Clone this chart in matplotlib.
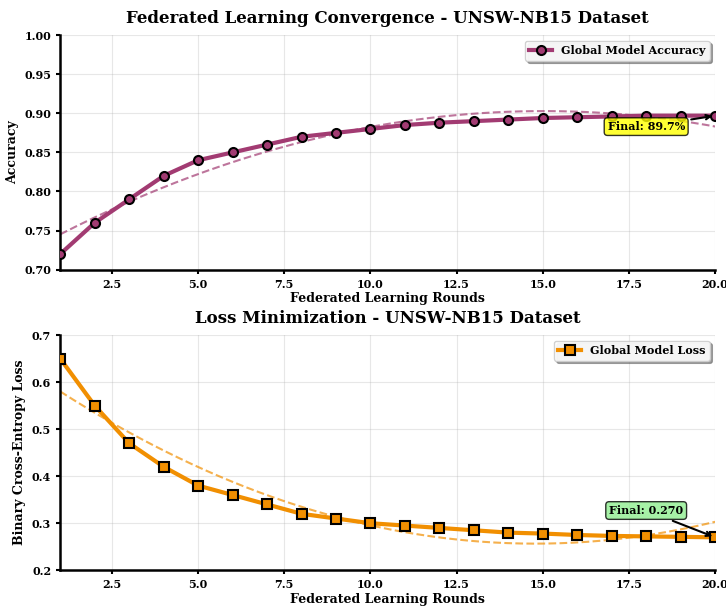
import numpy as np
import matplotlib
matplotlib.use('Agg')
import matplotlib.pyplot as plt

plt.rcParams['font.family'] = 'DejaVu Serif'
plt.rcParams['font.weight'] = 'bold'
plt.rcParams['axes.labelweight'] = 'bold'
plt.rcParams['axes.titleweight'] = 'bold'

rounds = list(range(1, 21))
accuracy = [0.72, 0.76, 0.79, 0.82, 0.84, 0.85, 0.86, 0.87, 0.875, 0.88,
            0.885, 0.888, 0.89, 0.892, 0.894, 0.895, 0.896, 0.897, 0.897, 0.897]
loss = [0.65, 0.55, 0.47, 0.42, 0.38, 0.36, 0.34, 0.32, 0.31, 0.30,
        0.295, 0.29, 0.285, 0.28, 0.278, 0.275, 0.273, 0.272, 0.271, 0.270]

acc_color = '#A23B72'
loss_color = '#F18F01'

fig = plt.figure(figsize=(7.26, 6.06), dpi=100)
ax1 = fig.add_axes([0.083, 0.555, 0.902, 0.387])
ax2 = fig.add_axes([0.083, 0.059, 0.902, 0.388])


def draw(ax, ys, color, marker, label, title, ylabel, ylim, yticks, note, note_xy, box_color):
    xs = np.array(rounds)
    ax.plot(xs, ys, marker=marker, color=color, lw=3, markersize=6.5,
            markerfacecolor=color, markeredgecolor='black', markeredgewidth=1.5,
            label=label, zorder=3)
    # quadratic trend line
    coef = np.polyfit(xs, ys, 2)
    xx = np.linspace(xs.min(), xs.max(), 200)
    ax.plot(xx, np.polyval(coef, xx), '--', color=color, lw=1.5, alpha=0.7, zorder=2)

    ax.set_xlim(1, 20)
    ax.set_ylim(*ylim)
    ax.set_yticks(yticks)
    ax.set_title(title, fontsize=12, pad=9)
    ax.set_xlabel('Federated Learning Rounds', fontsize=9, labelpad=2)
    ax.set_ylabel(ylabel, fontsize=9)
    ax.tick_params(labelsize=8, width=1.5, length=3)
    ax.grid(True, alpha=0.3)
    for side in ['top', 'right']:
        ax.spines[side].set_visible(False)
    for side in ['left', 'bottom']:
        ax.spines[side].set_linewidth(1.8)

    ax.legend(loc='upper right', fontsize=8, fancybox=True, shadow=True, framealpha=0.9)
    ax.annotate(note, xy=(xs[-1], ys[-1]), xytext=note_xy, fontsize=8, ha='center', va='center',
                bbox=dict(boxstyle='round,pad=0.3', facecolor=box_color, edgecolor='black', alpha=0.8),
                arrowprops=dict(arrowstyle='->', color='black', lw=1.5))


draw(ax1, accuracy, acc_color, 'o', 'Global Model Accuracy',
     'Federated Learning Convergence - UNSW-NB15 Dataset', 'Accuracy',
     (0.70, 1.00), np.arange(0.70, 1.001, 0.05), f'Final: {accuracy[-1] * 100:.1f}%',
     (18.0, 0.883), 'yellow')
ax1.set_yticklabels([f'{v:.2f}' for v in np.arange(0.70, 1.001, 0.05)])

draw(ax2, loss, loss_color, 's', 'Global Model Loss',
     'Loss Minimization - UNSW-NB15 Dataset', 'Binary Cross-Entropy Loss',
     (0.2, 0.7), np.arange(0.2, 0.701, 0.1), f'Final: {loss[-1]:.3f}',
     (18.0, 0.327), 'lightgreen')

fig.savefig('out.png', dpi=100)
